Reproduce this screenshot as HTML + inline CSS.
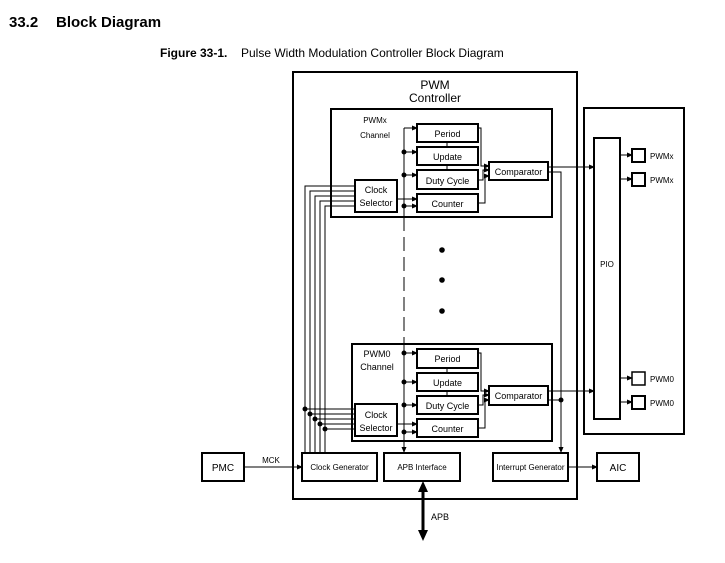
<!DOCTYPE html>
<html><head><meta charset="utf-8"><style>
html,body{margin:0;padding:0;background:#fff;}
svg{display:block;font-family:"Liberation Sans",Arial,sans-serif;}
</style></head><body>
<svg width="725" height="563" viewBox="0 0 725 563" xmlns="http://www.w3.org/2000/svg">
<defs>
<marker id="a" markerWidth="6" markerHeight="6" refX="5" refY="3" orient="auto" markerUnits="userSpaceOnUse"><path d="M0,0.5 L6,3 L0,5.5 z" fill="#000"/></marker>
</defs>
<text x="9" y="27" font-size="15" font-weight="bold">33.2</text>
<text x="56" y="27" font-size="15" font-weight="bold">Block Diagram</text>
<text x="160" y="57" font-size="12" font-weight="bold">Figure 33-1.</text>
<text x="241" y="57" font-size="12">Pulse Width Modulation Controller Block Diagram</text>

<g fill="none" stroke="#000">
<rect x="293" y="72" width="284" height="427" stroke-width="2"/>
<rect x="584" y="108" width="100" height="326" stroke-width="2"/>
<rect x="594" y="138" width="26" height="281" stroke-width="2"/>
<rect x="632" y="149" width="13" height="13" stroke-width="2"/>
<rect x="632" y="173" width="13" height="13" stroke-width="2"/>
<rect x="632" y="372" width="13" height="13" stroke-width="1.5"/>
<rect x="632" y="396" width="13" height="13" stroke-width="2"/>

<!-- PWMx channel -->
<rect x="331" y="109" width="221" height="108" stroke-width="2"/>
<rect x="417" y="124" width="61" height="18" stroke-width="2"/>
<rect x="417" y="147" width="61" height="18" stroke-width="2"/>
<rect x="417" y="170" width="61" height="19" stroke-width="2"/>
<rect x="417" y="194" width="61" height="18" stroke-width="2"/>
<rect x="489" y="162" width="59" height="18" stroke-width="2"/>
<rect x="355" y="180" width="42" height="32" stroke-width="2"/>

<!-- PWM0 channel -->
<rect x="352" y="344" width="200" height="97" stroke-width="2"/>
<rect x="417" y="349" width="61" height="19" stroke-width="2"/>
<rect x="417" y="373" width="61" height="18" stroke-width="2"/>
<rect x="417" y="396" width="61" height="18" stroke-width="2"/>
<rect x="417" y="419" width="61" height="18" stroke-width="2"/>
<rect x="489" y="386" width="59" height="19" stroke-width="2"/>
<rect x="355" y="404" width="42" height="32" stroke-width="2"/>

<!-- bottom boxes -->
<rect x="302" y="453" width="75" height="28" stroke-width="2"/>
<rect x="384" y="453" width="76" height="28" stroke-width="2"/>
<rect x="493" y="453" width="75" height="28" stroke-width="2"/>
<rect x="202" y="453" width="42" height="28" stroke-width="2"/>
<rect x="597" y="453" width="42" height="28" stroke-width="2"/>
</g>

<g fill="none" stroke="#000" stroke-width="1">
<!-- bus line -->
<path d="M404,128 V217"/>
<path d="M404,217 V345" stroke-dasharray="14,6"/>
<path d="M404,345 V452" marker-end="url(#a)"/>
<!-- PWMx inputs -->
<path d="M404,128 H417" marker-end="url(#a)"/>
<path d="M404,152 H417" marker-end="url(#a)"/>
<path d="M404,175 H417" marker-end="url(#a)"/>
<path d="M397,199 H417" marker-end="url(#a)"/>
<path d="M404,206 H417" marker-end="url(#a)"/>
<path d="M447,142 V147 M447,165 V170"/>
<path d="M478,128 H481 V166 H489" marker-end="url(#a)"/>
<path d="M478,180 H483 V170 H489" marker-end="url(#a)"/>
<path d="M478,203 H485 V176 H489" marker-end="url(#a)"/>
<path d="M548,167 H594" marker-end="url(#a)"/>
<path d="M548,172 H561 V452" marker-end="url(#a)"/>
<!-- PWM0 inputs -->
<path d="M404,353 H417" marker-end="url(#a)"/>
<path d="M404,382 H417" marker-end="url(#a)"/>
<path d="M404,405 H417" marker-end="url(#a)"/>
<path d="M397,424 H417" marker-end="url(#a)"/>
<path d="M404,432 H417" marker-end="url(#a)"/>
<path d="M447,368 V373 M447,391 V396"/>
<path d="M478,353 H481 V391 H489" marker-end="url(#a)"/>
<path d="M478,405 H483 V395 H489" marker-end="url(#a)"/>
<path d="M478,428 H485 V400 H489" marker-end="url(#a)"/>
<path d="M548,391 H594" marker-end="url(#a)"/>
<path d="M548,400 H561"/>
<!-- clock lines -->
<path d="M305,453 V186 H355"/>
<path d="M310,453 V191 H355"/>
<path d="M315,453 V196 H355"/>
<path d="M320,453 V201 H355"/>
<path d="M325,453 V206 H355"/>
<path d="M305,409 H355 M310,414 H355 M315,419 H355 M320,424 H355 M325,429 H355"/>
<!-- PIO outputs -->
<path d="M620,155 H632" marker-end="url(#a)"/>
<path d="M620,179 H632" marker-end="url(#a)"/>
<path d="M620,378 H632" marker-end="url(#a)"/>
<path d="M620,402 H632" marker-end="url(#a)"/>
<!-- bottom -->
<path d="M244,467 H302" marker-end="url(#a)"/>
<path d="M568,467 H597" marker-end="url(#a)"/>
</g>
<!-- APB thick arrow -->
<path d="M423,487 V534" stroke="#000" stroke-width="3"/>
<path d="M418,492 L423,481 L428,492 z M418,530 L423,541 L428,530 z" fill="#000"/>

<g fill="#000">
<circle cx="404" cy="152" r="2.5"/><circle cx="404" cy="175" r="2.5"/><circle cx="404" cy="206" r="2.5"/>
<circle cx="404" cy="353" r="2.5"/><circle cx="404" cy="382" r="2.5"/><circle cx="404" cy="405" r="2.5"/><circle cx="404" cy="432" r="2.5"/>
<circle cx="561" cy="400" r="2.5"/>
<circle cx="305" cy="409" r="2.5"/><circle cx="310" cy="414" r="2.5"/><circle cx="315" cy="419" r="2.5"/><circle cx="320" cy="424" r="2.5"/><circle cx="325" cy="429" r="2.5"/>
<circle cx="442" cy="250" r="2.8"/><circle cx="442" cy="280" r="2.8"/><circle cx="442" cy="311" r="2.8"/>
</g>

<g font-size="9" text-anchor="middle">
<text x="435" y="89" font-size="12">PWM</text>
<text x="435" y="102" font-size="12">Controller</text>
<text x="375" y="123" font-size="8">PWMx</text>
<text x="375" y="138" font-size="8">Channel</text>
<text x="447.5" y="137">Period</text>
<text x="447.5" y="160">Update</text>
<text x="447.5" y="184">Duty Cycle</text>
<text x="447.5" y="207">Counter</text>
<text x="518.5" y="175">Comparator</text>
<text x="376" y="193">Clock</text>
<text x="376" y="206">Selector</text>
<text x="377" y="357">PWM0</text>
<text x="377" y="370">Channel</text>
<text x="447.5" y="362">Period</text>
<text x="447.5" y="386">Update</text>
<text x="447.5" y="409">Duty Cycle</text>
<text x="447.5" y="432">Counter</text>
<text x="518.5" y="399">Comparator</text>
<text x="376" y="418">Clock</text>
<text x="376" y="431">Selector</text>
<text x="339.5" y="470" font-size="8">Clock Generator</text>
<text x="422" y="470" font-size="8">APB Interface</text>
<text x="530.5" y="470" font-size="8">Interrupt Generator</text>
<text x="223" y="471" font-size="10">PMC</text>
<text x="618" y="471" font-size="10">AIC</text>
<text x="271" y="463" font-size="8">MCK</text>
<text x="607" y="267" font-size="8">PIO</text>
<text x="440" y="520" font-size="9">APB</text>
</g>
<g font-size="8">
<text x="650" y="159">PWMx</text>
<text x="650" y="183">PWMx</text>
<text x="650" y="382">PWM0</text>
<text x="650" y="406">PWM0</text>
</g>
</svg>
</body></html>
